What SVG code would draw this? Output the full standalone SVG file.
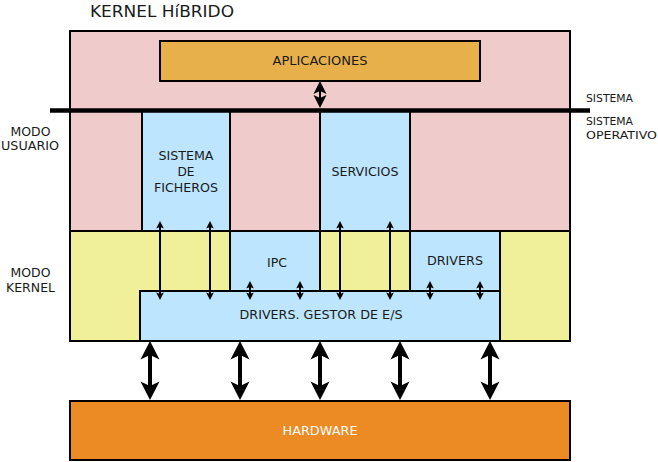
<svg xmlns="http://www.w3.org/2000/svg" width="658" height="462" viewBox="0 0 658 462">
<style>
  .box{stroke:#000;stroke-width:2}
  .pink{fill:#EFCBCB}
  .yellow{fill:#F0EF9A}
  .blue{fill:#BDE5FE}
  .app{fill:#E8B04A}
  .hw{fill:#EC8A24}
  text{font-family:"DejaVu Sans","Liberation Sans",sans-serif;font-size:11.5px;fill:#1a1a1a}
  .c{text-anchor:middle}
  .title{font-size:16px}
  .side{font-size:11px}
  .white{fill:#ffffff}
  .ln{stroke:#000;fill:none}
</style>
<defs>
  <marker id="big" markerUnits="userSpaceOnUse" markerWidth="40" markerHeight="40" viewBox="-10 -20 40 40" refX="0" refY="0" orient="auto-start-reverse" overflow="visible">
    <path d="M14,0 L-4.5,-9.5 L0,0 L-4.5,9.5 Z" fill="#000"/>
  </marker>
  <marker id="small" markerUnits="userSpaceOnUse" markerWidth="20" markerHeight="20" viewBox="-10 -10 20 20" refX="0" refY="0" orient="auto-start-reverse" overflow="visible">
    <path d="M6,0 L-1.5,-3.8 L0,0 L-1.5,3.8 Z" fill="#000"/>
  </marker>
  <marker id="mid" markerUnits="userSpaceOnUse" markerWidth="30" markerHeight="30" viewBox="-15 -15 30 30" refX="0" refY="0" orient="auto-start-reverse" overflow="visible">
    <path d="M10,0 L-3,-6.5 L0,0 L-3,6.5 Z" fill="#000"/>
  </marker>
</defs>

<text class="title" x="90" y="17" textLength="144" lengthAdjust="spacingAndGlyphs">KERNEL HíBRIDO</text>

<g id="modo-usuario-zone"><rect class="box pink" x="70" y="31" width="500" height="200"/></g>
<g id="modo-kernel-zone"><rect class="box yellow" x="70" y="231" width="500" height="110"/></g>

<g id="aplicaciones">
  <rect class="box app" x="160" y="41" width="320" height="40"/>
  <text class="c" x="320" y="65" textLength="95" lengthAdjust="spacingAndGlyphs">APLICACIONES</text>
</g>

<g id="sistema-ficheros">
  <rect class="box blue" x="142" y="110" width="88" height="121"/>
  <text class="c" x="186" y="160" textLength="55" lengthAdjust="spacingAndGlyphs">SISTEMA</text>
  <text class="c" x="186" y="176" textLength="17" lengthAdjust="spacingAndGlyphs">DE</text>
  <text class="c" x="186" y="192" textLength="64" lengthAdjust="spacingAndGlyphs">FICHEROS</text>
</g>

<g id="servicios">
  <rect class="box blue" x="320" y="110" width="90" height="121"/>
  <text class="c" x="365" y="176" textLength="67" lengthAdjust="spacingAndGlyphs">SERVICIOS</text>
</g>

<g id="ipc">
  <rect class="box blue" x="230" y="231" width="90" height="60"/>
  <text class="c" x="277" y="267" textLength="20" lengthAdjust="spacingAndGlyphs">IPC</text>
</g>

<g id="drivers">
  <rect class="box blue" x="410" y="231" width="90" height="60"/>
  <text class="c" x="455" y="265" textLength="56" lengthAdjust="spacingAndGlyphs">DRIVERS</text>
</g>

<g id="drivers-gestor">
  <rect class="box blue" x="140" y="291" width="360" height="50"/>
  <text class="c" x="321" y="319" textLength="163" lengthAdjust="spacingAndGlyphs">DRIVERS. GESTOR DE E/S</text>
</g>

<g id="hardware">
  <rect class="box hw" x="70" y="401" width="500" height="59"/>
  <text class="c white" x="320" y="435" textLength="75" lengthAdjust="spacingAndGlyphs">HARDWARE</text>
</g>

<g id="separador">
  <line x1="50" y1="110.5" x2="590" y2="110.5" stroke="#000" stroke-width="4.5"/>
</g>

<g id="labels">
  <text class="c" x="30.5" y="136" textLength="40" lengthAdjust="spacingAndGlyphs">MODO</text>
  <text class="c" x="30" y="150" textLength="58" lengthAdjust="spacingAndGlyphs">USUARIO</text>
  <text class="c" x="30.5" y="277" textLength="40" lengthAdjust="spacingAndGlyphs">MODO</text>
  <text class="c" x="30.5" y="292" textLength="49" lengthAdjust="spacingAndGlyphs">KERNEL</text>
  <text class="side" x="586" y="102" textLength="47" lengthAdjust="spacingAndGlyphs">SISTEMA</text>
  <text class="side" x="586" y="125" textLength="47" lengthAdjust="spacingAndGlyphs">SISTEMA</text>
  <text class="side" x="586" y="139" textLength="71" lengthAdjust="spacingAndGlyphs">OPERATIVO</text>
</g>

<g id="connectors">
  <line class="ln" x1="320" y1="91" x2="320" y2="98" stroke-width="2" marker-start="url(#mid)" marker-end="url(#mid)"/>

  <line class="ln" x1="160" y1="227" x2="160" y2="294" stroke-width="2" marker-start="url(#small)" marker-end="url(#small)"/>
  <line class="ln" x1="210" y1="227" x2="210" y2="294" stroke-width="2" marker-start="url(#small)" marker-end="url(#small)"/>
  <line class="ln" x1="340" y1="227" x2="340" y2="294" stroke-width="2" marker-start="url(#small)" marker-end="url(#small)"/>
  <line class="ln" x1="390" y1="227" x2="390" y2="294" stroke-width="2" marker-start="url(#small)" marker-end="url(#small)"/>

  <line class="ln" x1="250" y1="287" x2="250" y2="294" stroke-width="2" marker-start="url(#small)" marker-end="url(#small)"/>
  <line class="ln" x1="300" y1="287" x2="300" y2="294" stroke-width="2" marker-start="url(#small)" marker-end="url(#small)"/>
  <line class="ln" x1="430" y1="287" x2="430" y2="294" stroke-width="2" marker-start="url(#small)" marker-end="url(#small)"/>
  <line class="ln" x1="480" y1="287" x2="480" y2="294" stroke-width="2" marker-start="url(#small)" marker-end="url(#small)"/>

  <line class="ln" x1="150" y1="355" x2="150" y2="386" stroke-width="4" marker-start="url(#big)" marker-end="url(#big)"/>
  <line class="ln" x1="240" y1="355" x2="240" y2="386" stroke-width="4" marker-start="url(#big)" marker-end="url(#big)"/>
  <line class="ln" x1="320" y1="355" x2="320" y2="386" stroke-width="4" marker-start="url(#big)" marker-end="url(#big)"/>
  <line class="ln" x1="400" y1="355" x2="400" y2="386" stroke-width="4" marker-start="url(#big)" marker-end="url(#big)"/>
  <line class="ln" x1="490" y1="355" x2="490" y2="386" stroke-width="4" marker-start="url(#big)" marker-end="url(#big)"/>
</g>
</svg>
